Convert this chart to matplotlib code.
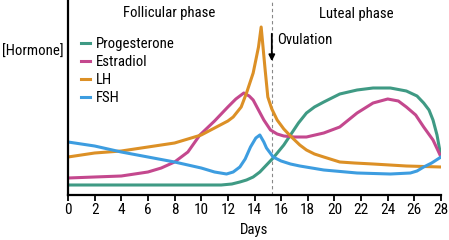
import matplotlib
matplotlib.use("Agg")
import matplotlib.pyplot as plt

plt.rcParams['font.family'] = ['Roboto Condensed', 'PT Sans Narrow', 'Archivo Narrow',
                               'Liberation Sans', 'DejaVu Sans']

# values (day, level)
lh_days = [0, 2, 4, 6, 8, 10, 11, 12, 12.4, 13, 13.4, 13.9, 14.3, 14.5, 14.8, 15.0,
           15.3, 15.7, 16.2, 16.7, 17.4, 17.9, 18.5, 19.2, 20.4, 21.5, 22.9, 25.4, 28]
lh_vals = [38, 42, 44, 48, 52, 60, 67, 74, 78, 88, 102, 122, 148, 168, 125, 98,
           86, 75, 66, 59, 50, 45, 41, 38, 33, 32, 31, 29, 28]

e2_days = [0, 2, 4, 6, 7, 8, 9, 9.9, 11, 12, 12.6, 13.2, 13.6, 13.9, 14.3, 14.7, 15.2,
           15.7, 16.2, 17, 17.9, 19.2, 20.4, 21.7, 22.9, 24, 24.8, 25.4, 26.1, 26.7, 27.4, 28]
e2_vals = [17, 18, 19, 23, 27, 33, 43, 60, 74, 88, 96, 102, 99, 95, 85, 75, 65,
           61, 59, 58, 58, 62, 68, 82, 92, 96, 94, 88, 80, 68, 55, 38]

fsh_days = [0, 2, 4, 6, 8, 10, 11, 11.9, 12.4, 12.9, 13.3, 13.7, 14.1, 14.4, 14.7, 14.9,
            15.4, 16, 16.7, 17.4, 19.2, 21.7, 24.2, 25.7, 26.2, 26.7, 27.3, 28]
fsh_vals = [53, 49, 43, 38, 33, 27, 23, 21, 23, 28, 36, 48, 57, 60, 53, 47,
            38, 34, 31, 29, 25, 22, 21, 22, 24, 28, 32, 38]

p4_days = [0, 11.5, 12.3, 12.9, 13.4, 13.9, 14.4, 14.9, 15.4, 16.2, 16.7, 17.3, 17.9, 18.5,
           19.2, 20.4, 21.7, 22.9, 24.2, 25.4, 26.2, 26.7, 27.1, 27.4, 27.7, 28]
p4_vals = [10, 10, 11, 13, 15, 18, 23, 30, 37, 50, 60, 72, 82, 88,
           93, 101, 105, 107, 107, 104, 99, 92, 85, 75, 60, 38]

xticks = list(range(0, 29, 2))
ovulation_day = 15.3

c_p4 = '#3f9a84'
c_e2 = '#c4488e'
c_lh = '#dc9026'
c_fsh = '#3d9de0'

fs = 10.6

fig = plt.figure(figsize=(4.49, 2.40), dpi=100)
ax = fig.add_axes([68 / 449, 45 / 240, 373 / 449, 195 / 240])

lw = 2.2
ax.plot(p4_days, p4_vals, color=c_p4, lw=lw, label='Progesterone', solid_joinstyle='round')
ax.plot(e2_days, e2_vals, color=c_e2, lw=lw, label='Estradiol', solid_joinstyle='round')
ax.plot(lh_days, lh_vals, color=c_lh, lw=lw, label='LH', solid_joinstyle='round')
ax.plot(fsh_days, fsh_vals, color=c_fsh, lw=lw, label='FSH', solid_joinstyle='round')

ax.axvline(ovulation_day, color='#888888', lw=0.8, ls=(0, (3, 2.5)), zorder=0)
ax.annotate('', xy=(ovulation_day, 131), xytext=(ovulation_day, 164),
            arrowprops=dict(arrowstyle='-|>', color='black', lw=1.3, mutation_scale=9))
ax.text(15.7, 155, 'Ovulation', fontsize=fs, va='center', ha='left')

ax.set_xlim(0, 28)
ax.set_ylim(0, 195)
ax.set_xticks(xticks)
ax.set_yticks([])
ax.tick_params(axis='x', labelsize=11, length=4, width=1.3, pad=2)
for s in ['top', 'right']:
    ax.spines[s].set_visible(False)
for s in ['left', 'bottom']:
    ax.spines[s].set_linewidth(1.6)

leg = ax.legend(loc='upper left', bbox_to_anchor=(0.035, 0.812), frameon=False,
                fontsize=fs, handlelength=0.6, handletextpad=0.4,
                labelspacing=0.28, borderpad=0, borderaxespad=0)

fig.text(64 / 449, 1 - 51.7 / 240, '[Hormone]', fontsize=fs, ha='right', va='center')
fig.text(169 / 449, 1 - 13.5 / 240, 'Follicular phase', fontsize=fs, ha='center', va='center')
fig.text(356 / 449, 1 - 14 / 240, 'Luteal phase', fontsize=fs, ha='center', va='center')
fig.text(254.5 / 449, 1 - 230 / 240, 'Days', fontsize=fs, ha='center', va='center')

fig.savefig('out.png', dpi=100)
